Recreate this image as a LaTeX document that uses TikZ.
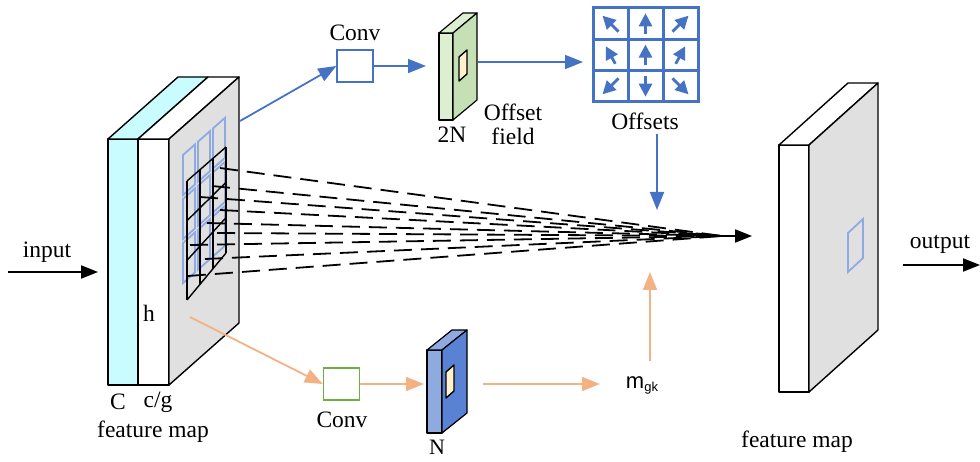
\documentclass[tikz,border=0pt]{standalone}
\usepackage{fontspec}
\setmainfont{Liberation Serif}
\setsansfont{Liberation Sans}
\usetikzlibrary{arrows.meta}
\definecolor{lineblue}{HTML}{4472C4}
\definecolor{gridblue}{HTML}{8FAAE0}
\definecolor{peach}{HTML}{F4B183}
\definecolor{convgreen}{HTML}{70AD47}
\definecolor{cyanface}{HTML}{C8FCFF}
\definecolor{grayface}{HTML}{E0E0E0}
\definecolor{greenfront}{HTML}{DCEFD0}
\definecolor{greenside}{HTML}{C5E0B4}
\definecolor{bluefront}{HTML}{8EAADF}
\definecolor{blueside}{HTML}{5A82D4}
\definecolor{paleyellow}{HTML}{FFF2CC}
\begin{document}
\begin{tikzpicture}[x=1pt,y=-1pt,
  face/.style={draw=black, line width=1.4pt, line join=round},
  lbl/.style={font=\fontsize{23.5}{27}\selectfont, inner sep=0pt},
  bluearrow/.style={draw=lineblue, line width=1.8pt, -{Triangle[length=18pt,width=14pt]}},
  peacharrow/.style={draw=peach, line width=1.8pt, -{Triangle[length=18pt,width=14pt]}},
  blackarrow/.style={draw=black, line width=1.8pt, -{Triangle[length=17pt,width=13pt]}},
  convbox/.style={draw, line width=1.4pt, fill=white, minimum width=36pt, minimum height=32pt, inner sep=0pt},
  sampleline/.style={draw=black, line width=1.8pt, dash pattern=on 18pt off 9pt},
  cellarrow/.style={draw=lineblue, line width=2.8pt, -{Triangle[length=13pt,width=13pt]}}]
\useasboundingbox (0,0) rectangle (980,462);

% ---------------- input feature map ----------------
\path[face, fill=cyanface] (108,139) rectangle (138,385);
\path[face, fill=cyanface] (108,139) -- (178,77) -- (208,77) -- (138,139) -- cycle;
\path[face, fill=white] (138,139) rectangle (169,385);
\path[face, fill=white] (138,139) -- (208,77) -- (239,77) -- (169,139) -- cycle;
\path[face, fill=grayface] (169,139) -- (239,77) -- (239,323) -- (169,385) -- cycle;

% regular 3x3 sampling grid on the face
\foreach \i in {0,1,2}{
  \foreach \j in {0,1,2}{
    \pgfmathsetmacro{\xa}{183+15*\i}
    \pgfmathsetmacro{\xb}{\xa+12}
    \pgfmathsetmacro{\ya}{155+44*\j-0.886*15*\i}
    \draw[gridblue, line width=1.8pt]
      (\xa,\ya) -- (\xb,\ya-10.6) -- (\xb,\ya+29.4) -- (\xa,\ya+40) -- cycle;
  }
}

% deformed sampling lattice
\foreach \i in {0,1,2,3}{
  \draw[black, line width=1.4pt]
    ({187+13*\i},{181-34*\i/3}) -- ({187+13*\i},{300-47*\i/3});
}
\foreach \j in {0,1,2,3}{
  \draw[black, line width=1.4pt]
    (187,{181+119*\j/3}) -- (226,{(1-\j/3)*147+\j/3*253});
}

% sampled positions
\coordinate (s1) at (220,168);
\coordinate (s2) at (212,186);
\coordinate (s3) at (200,197);
\coordinate (s4) at (220,210);
\coordinate (s5) at (207,223);
\coordinate (s6) at (217,233);
\coordinate (s7) at (190,245);
\coordinate (s8) at (205,259);
\coordinate (s9) at (188,276);
\coordinate (focus) at (722,236);
\coordinate (focustip) at (752,236);

\foreach \s in {s1,s2,s3,s4,s5,s6,s7,s8,s9}{
  \draw[sampleline] (\s) -- (focus);
}
\draw[blackarrow] (focus) -- (focustip);

% labels of the input map
\node[lbl] (lC) at (118,402) {C};
\node[lbl] (lcg) at (158,402) {c/g};
\node[lbl] (lfm) at (153,432) {feature map};
\node[lbl] (lh) at (149,313) {h};

% input arrow
\node[lbl] (inlbl) at (47,252) {input};
\coordinate (inS) at (8,272);
\coordinate (inE) at (98,272);
\draw[blackarrow] (inS) -- (inE);

% ---------------- offset branch ----------------
\coordinate (gridTR) at (240,121);
\node[convbox, draw=lineblue] (conv1) at (355,66) {};
\node[lbl] (conv1lbl) at (355,33) {Conv};
\draw[bluearrow] (gridTR) -- (conv1.west);

% offset field slab (2N)
\path[face, line width=1.2pt, fill=greenfront] (439,33) rectangle (453,120);
\path[face, line width=1.2pt, fill=greenfront] (439,33) -- (463,13) -- (477,13) -- (453,33) -- cycle;
\path[face, line width=1.2pt, fill=greenside] (453,33) -- (477,13) -- (477,100) -- (453,120) -- cycle;
\path[face, line width=1.4pt, fill=paleyellow] (459,57) -- (467,50) -- (467,74) -- (459,81) -- cycle;
\coordinate (fieldIn) at (426,66);
\coordinate (fieldOut) at (478,62);
\coordinate (offsIn) at (583,62);
\draw[bluearrow] (conv1.east) -- (fieldIn);
\node[lbl] (l2N) at (452,135) {2N};
\node[lbl, align=center] (lfield) at (513,124) {Offset\\[-3pt]field};

% offsets grid
\node[draw=lineblue, line width=3pt, minimum width=105pt, minimum height=94pt, inner sep=0pt] (offs) at (645.5,55) {};
\draw[lineblue, line width=3pt] (628,8) -- (628,102) (663,8) -- (663,102)
  (593,39.3) -- (698,39.3) (593,70.7) -- (698,70.7);
\foreach \c/\r/\dx/\dy in {0/0/-1/-1, 1/0/0/-1.3, 2/0/1/-1, 0/1/-0.6/-1.1, 1/1/0/-1.3, 2/1/0.6/-1.1, 0/2/-1/1, 1/2/0/1.3, 2/2/1/1}{
  \draw[cellarrow] ({610.5+35*\c-8*\dx},{23.7+31.3*\r-8*\dy}) -- ({610.5+35*\c+8*\dx},{23.7+31.3*\r+8*\dy});
}
\draw[bluearrow] (fieldOut) -- (offsIn);
\node[lbl] (loffs) at (645,121) {Offsets};
\coordinate (offsTop) at (657,134);
\coordinate (offsTip) at (657,210);
\draw[bluearrow] (offsTop) -- (offsTip);

% ---------------- modulation branch ----------------
\coordinate (faceLow) at (190,317);
\node[convbox, draw=convgreen] (conv2) at (341.5,384) {};
\node[lbl] (conv2lbl) at (342,420) {Conv};
\draw[peacharrow] (faceLow) -- (conv2.west);

% modulation slab (N)
\path[face, line width=1.2pt, fill=bluefront] (427,350) rectangle (442,433);
\path[face, line width=1.2pt, fill=bluefront] (427,350) -- (452,330) -- (467,330) -- (442,350) -- cycle;
\path[face, line width=1.2pt, fill=blueside] (442,350) -- (467,330) -- (467,413) -- (442,433) -- cycle;
\path[face, line width=1.4pt, fill=paleyellow] (446,372) -- (454,365) -- (454,391) -- (446,398) -- cycle;
\coordinate (slabIn) at (424,384);
\coordinate (slabOut) at (483,384);
\draw[peacharrow] (conv2.east) -- (slabIn);
\node[lbl, font=\fontsize{22}{24}\selectfont] (lN) at (437,447) {N};

\node[inner sep=2pt, font=\fontsize{22}{24}\sffamily] (mgk) at (642,385)
  {m\raisebox{-3pt}{\fontsize{13}{14}\selectfont gk}};
\coordinate (mgkIn) at (600,384);
\draw[peacharrow] (slabOut) -- (mgkIn);
\coordinate (mgkTop) at (650,361);
\coordinate (mgkTip) at (650,272);
\draw[peacharrow] (mgkTop) -- (mgkTip);

% ---------------- output feature map ----------------
\path[face, fill=white] (779,145) rectangle (809,392);
\path[face, fill=white] (779,145) -- (848,83) -- (878,83) -- (809,145) -- cycle;
\path[face, fill=grayface] (809,145) -- (878,83) -- (878,330) -- (809,392) -- cycle;
\draw[gridblue, line width=1.8pt] (848,233) -- (863,219) -- (863,258) -- (848,272) -- cycle;
\node[lbl] (rfm) at (797,442) {feature map};

\node[lbl] (outlbl) at (940,244) {output};
\coordinate (outS) at (903,265);
\coordinate (outE) at (980,265);
\draw[blackarrow] (outS) -- (outE);
\end{tikzpicture}
\end{document}
